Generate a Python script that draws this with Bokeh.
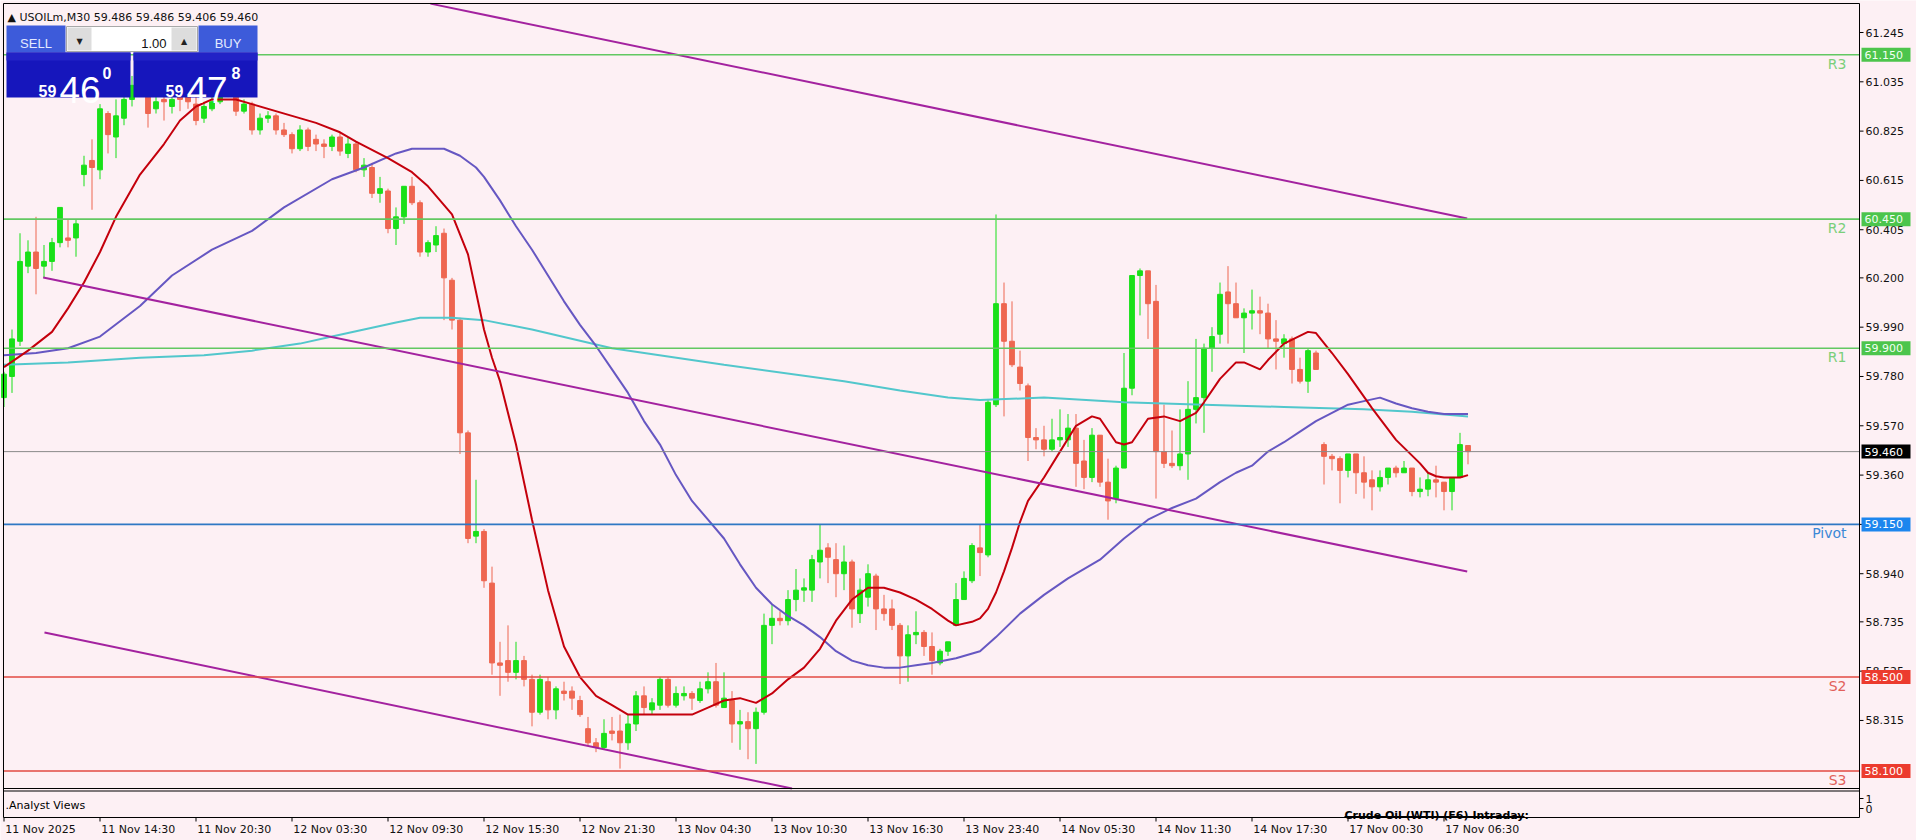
from bokeh.plotting import figure
from bokeh.models import Range1d, Label, BoxAnnotation
from bokeh.core.properties import value
from bokeh.embed import file_html
from bokeh.resources import INLINE

# ---------------- data ----------------
symbol_header = "\u25B2 USOILm,M30  59.486 59.486 59.406 59.460"

bar_open = [
    59.69, 59.78, 59.93, 60.25, 60.31, 60.25, 60.27, 60.35, 60.37, 60.37,
    60.64, 60.70, 60.66, 60.90, 60.80, 60.88, 60.96, 61.02, 61.04, 60.92,
    60.96, 60.93, 60.97, 60.99, 60.94, 60.88, 60.92, 60.95, 60.98, 61.00,
    60.91, 60.94, 60.83, 60.88, 60.89, 60.83, 60.81, 60.75, 60.83, 60.79,
    60.77, 60.76, 60.80, 60.73, 60.77, 60.66, 60.67, 60.56, 60.57, 60.41,
    60.46, 60.59, 60.52, 60.31, 60.34, 60.39, 60.19, 60.02, 59.54, 59.10,
    59.12, 58.90, 58.56, 58.57, 58.52, 58.57, 58.49, 58.35, 58.48, 58.36,
    58.44, 58.44, 58.40, 58.28, 58.22, 58.20, 58.27, 58.27, 58.22, 58.30,
    58.42, 58.36, 58.38, 58.49, 58.38, 58.42, 58.43, 58.40, 58.45, 58.48,
    58.37, 58.40, 58.30, 58.31, 58.28, 58.35, 58.72, 58.75, 58.74, 58.83,
    58.87, 58.87, 58.99, 59.05, 59.00, 58.94, 58.99, 58.77, 58.84, 58.93,
    58.79, 58.79, 58.72, 58.59, 58.68, 58.69, 58.63, 58.56, 58.61, 58.72,
    58.83, 58.91, 59.05, 59.02, 59.66, 60.09, 59.93, 59.82, 59.74, 59.52,
    59.51, 59.47, 59.51, 59.51, 59.56, 59.42, 59.35, 59.53, 59.33, 59.26,
    59.39, 59.73, 60.21, 60.23, 60.10, 59.46, 59.41, 59.40, 59.45, 59.64,
    59.69, 59.90, 59.96, 60.14, 60.09, 60.03, 60.05, 60.06, 60.05, 59.94,
    59.92, 59.94, 59.81, 59.76, 59.88, 59.49, 59.44, 59.43, 59.38, 59.45,
    59.37, 59.34, 59.31, 59.35, 59.39, 59.37, 59.39, 59.29, 59.30, 59.34,
    59.33, 59.29, 59.35, 59.486,
]
bar_high = [
    59.80, 59.98, 60.39, 60.36, 60.46, 60.34, 60.37, 60.50, 60.45, 60.45,
    60.72, 60.79, 60.94, 60.91, 60.96, 61.00, 61.06, 61.10, 61.07, 61.00,
    61.00, 61.01, 61.01, 61.02, 60.97, 60.95, 60.99, 61.03, 61.05, 61.03,
    60.96, 60.95, 60.90, 60.91, 60.90, 60.86, 60.82, 60.85, 60.84, 60.81,
    60.79, 60.81, 60.82, 60.80, 60.78, 60.71, 60.69, 60.63, 60.58, 60.50,
    60.59, 60.63, 60.53, 60.36, 60.42, 60.41, 60.20, 60.03, 59.55, 59.34,
    59.13, 58.97, 58.65, 58.72, 58.65, 58.59, 58.51, 58.51, 58.50, 58.46,
    58.48, 58.46, 58.42, 58.33, 58.24, 58.32, 58.33, 58.34, 58.34, 58.44,
    58.46, 58.41, 58.50, 58.50, 58.46, 58.46, 58.44, 58.48, 58.52, 58.56,
    58.52, 58.44, 58.36, 58.35, 58.37, 58.77, 58.81, 58.78, 58.87, 58.96,
    58.92, 59.02, 59.15, 59.07, 59.07, 59.06, 59.00, 58.92, 58.98, 58.94,
    58.85, 58.83, 58.73, 58.72, 58.78, 58.70, 58.69, 58.62, 58.65, 58.90,
    58.95, 59.07, 59.15, 59.68, 60.47, 60.18, 60.10, 59.89, 59.75, 59.56,
    59.57, 59.60, 59.64, 59.62, 59.62, 59.51, 59.56, 59.53, 59.43, 59.40,
    59.88, 60.21, 60.24, 60.23, 60.17, 59.66, 59.55, 59.64, 59.76, 59.94,
    59.92, 59.99, 60.18, 60.25, 60.18, 60.07, 60.15, 60.12, 60.09, 60.02,
    59.96, 59.95, 59.86, 59.90, 59.89, 59.50, 59.45, 59.44, 59.45, 59.45,
    59.44, 59.38, 59.38, 59.39, 59.40, 59.42, 59.39, 59.35, 59.37, 59.40,
    59.33, 59.35, 59.54, 59.486,
]
bar_low = [
    59.65, 59.71, 59.91, 60.22, 60.13, 60.20, 60.23, 60.33, 60.33, 60.29,
    60.59, 60.49, 60.62, 60.73, 60.71, 60.85, 60.93, 60.98, 60.84, 60.90,
    60.87, 60.90, 60.91, 60.92, 60.85, 60.86, 60.91, 60.94, 60.97, 60.89,
    60.90, 60.81, 60.81, 60.86, 60.81, 60.80, 60.73, 60.74, 60.74, 60.74,
    60.71, 60.74, 60.72, 60.71, 60.65, 60.63, 60.54, 60.52, 60.39, 60.34,
    60.43, 60.51, 60.29, 60.29, 60.31, 60.02, 59.98, 59.45, 59.07, 59.07,
    58.88, 58.51, 58.42, 58.48, 58.49, 58.46, 58.29, 58.34, 58.32, 58.32,
    58.40, 58.36, 58.33, 58.21, 58.18, 58.19, 58.23, 58.11, 58.19, 58.27,
    58.34, 58.34, 58.36, 58.37, 58.37, 58.40, 58.36, 58.39, 58.43, 58.37,
    58.37, 58.22, 58.19, 58.15, 58.13, 58.34, 58.64, 58.72, 58.72, 58.78,
    58.82, 58.82, 58.92, 58.90, 58.84, 58.87, 58.71, 58.73, 58.80, 58.70,
    58.74, 58.70, 58.47, 58.48, 58.64, 58.59, 58.51, 58.55, 58.59, 58.72,
    58.83, 58.90, 58.93, 59.01, 59.65, 59.61, 59.82, 59.72, 59.42, 59.47,
    59.44, 59.46, 59.48, 59.48, 59.31, 59.30, 59.33, 59.31, 59.17, 59.24,
    59.39, 59.70, 60.04, 59.94, 59.26, 59.39, 59.39, 59.38, 59.34, 59.58,
    59.54, 59.80, 59.92, 59.92, 60.03, 59.88, 59.98, 59.96, 59.90, 59.81,
    59.86, 59.75, 59.75, 59.71, 59.81, 59.32, 59.38, 59.24, 59.35, 59.28,
    59.26, 59.21, 59.29, 59.32, 59.35, 59.37, 59.27, 59.265, 59.27, 59.265,
    59.21, 59.21, 59.35, 59.406,
]
bar_close = [
    59.79, 59.94, 60.27, 60.31, 60.24, 60.27, 60.35, 60.50, 60.36, 60.43,
    60.68, 60.67, 60.92, 60.81, 60.89, 60.96, 61.02, 61.05, 60.90, 60.95,
    60.95, 60.96, 60.96, 60.95, 60.87, 60.93, 60.95, 60.98, 61.01, 60.91,
    60.94, 60.83, 60.88, 60.89, 60.83, 60.81, 60.75, 60.83, 60.76, 60.77,
    60.76, 60.80, 60.74, 60.77, 60.66, 60.68, 60.56, 60.58, 60.41, 60.46,
    60.59, 60.52, 60.31, 60.35, 60.38, 60.20, 60.02, 59.54, 59.09, 59.12,
    58.91, 58.56, 58.55, 58.52, 58.57, 58.49, 58.35, 58.49, 58.36, 58.45,
    58.43, 58.41, 58.34, 58.22, 58.20, 58.26, 58.26, 58.22, 58.30, 58.42,
    58.37, 58.39, 58.49, 58.38, 58.43, 58.43, 58.41, 58.45, 58.48, 58.38,
    58.41, 58.30, 58.31, 58.28, 58.35, 58.72, 58.75, 58.74, 58.83, 58.87,
    58.88, 59.00, 59.04, 59.01, 58.94, 58.99, 58.79, 58.87, 58.94, 58.79,
    58.77, 58.72, 58.59, 58.68, 58.69, 58.63, 58.57, 58.61, 58.65, 58.83,
    58.92, 59.06, 59.03, 59.67, 60.09, 59.93, 59.83, 59.75, 59.52, 59.51,
    59.47, 59.51, 59.52, 59.56, 59.41, 59.35, 59.53, 59.33, 59.25, 59.39,
    59.73, 60.21, 60.23, 60.09, 59.46, 59.41, 59.40, 59.45, 59.64, 59.69,
    59.90, 59.95, 60.13, 60.09, 60.03, 60.05, 60.06, 60.05, 59.94, 59.93,
    59.94, 59.81, 59.76, 59.89, 59.81, 59.44, 59.43, 59.38, 59.45, 59.37,
    59.33, 59.31, 59.35, 59.39, 59.37, 59.39, 59.29, 59.30, 59.34, 59.33,
    59.29, 59.35, 59.49, 59.460,
]

# moving averages (bar index, price)
ma_fast_bar = [0, 3, 6, 8, 10, 12, 14, 17, 20, 22, 24, 26, 29, 31, 36, 39, 42, 44, 48, 51,
               53, 56, 58, 60, 61, 62, 64, 66, 68, 70, 72, 74, 76, 78, 80, 83, 86, 88, 90, 92,
               94, 96, 98, 100, 102, 104, 106, 108, 110, 112, 114, 116, 118, 119, 121, 122, 123, 124, 125, 126,
               127, 128, 130, 132, 134, 136, 137, 139, 140, 141, 143, 145, 147, 149, 150, 152, 154, 155, 157, 158,
               160, 163, 164, 166, 168, 171, 174, 177, 178, 179, 180, 182, 183]
ma_fast_val = [59.82, 59.89, 59.97, 60.07, 60.18, 60.31, 60.46, 60.64, 60.77, 60.87, 60.93, 60.96, 60.96, 60.94, 60.89, 60.86, 60.82, 60.78, 60.71, 60.65,
               60.59, 60.47, 60.30, 59.98, 59.86, 59.76, 59.49, 59.17, 58.87, 58.63, 58.50, 58.42, 58.38, 58.34, 58.34, 58.34, 58.34, 58.37, 58.40, 58.41,
               58.39, 58.43, 58.49, 58.54, 58.62, 58.74, 58.83, 58.88, 58.88, 58.86, 58.83, 58.79, 58.74, 58.72, 58.735, 58.75, 58.79, 58.86, 58.95, 59.05,
               59.16, 59.25, 59.35, 59.46, 59.57, 59.61, 59.60, 59.50, 59.49, 59.50, 59.60, 59.61, 59.59, 59.625, 59.67, 59.77, 59.84, 59.84, 59.81, 59.85,
               59.92, 59.97, 59.965, 59.88, 59.79, 59.645, 59.51, 59.41, 59.37, 59.355, 59.35, 59.35, 59.36]

ma_mid_bar = [0, 4, 8, 12, 17, 21, 26, 31, 35, 41, 45, 49, 51, 55, 57, 59, 60, 62, 64, 66,
              68, 70, 72, 74, 76, 78, 80, 82, 84, 86, 88, 90, 92, 94, 96, 98, 100, 102, 104, 106,
              108, 110, 112, 114, 116, 119, 122, 124, 127, 130, 133, 137, 140, 143, 146, 149, 152, 154, 156, 158,
              160, 162, 164, 166, 168, 170, 172, 174, 176, 178, 180, 183]
ma_mid_val = [59.87, 59.88, 59.90, 59.95, 60.08, 60.21, 60.32, 60.40, 60.50, 60.62, 60.67, 60.73, 60.75, 60.75, 60.72, 60.67, 60.63, 60.53, 60.42, 60.32,
              60.21, 60.10, 60.00, 59.91, 59.81, 59.71, 59.59, 59.49, 59.36, 59.25, 59.17, 59.09, 58.98, 58.88, 58.81, 58.76, 58.72, 58.67, 58.61, 58.57,
              58.55, 58.54, 58.54, 58.55, 58.56, 58.58, 58.61, 58.67, 58.77, 58.85, 58.92, 59.00, 59.09, 59.17, 59.22, 59.26, 59.33, 59.37, 59.40, 59.46,
              59.50, 59.545, 59.59, 59.625, 59.66, 59.675, 59.69, 59.665, 59.645, 59.63, 59.62, 59.62]

ma_slow_bar = [0, 8, 17, 25, 31, 37, 41, 45, 49, 52, 56, 60, 66, 76, 90, 105, 112, 118, 122, 130,
               140, 150, 160, 170, 176, 183]
ma_slow_val = [59.83, 59.84, 59.86, 59.87, 59.89, 59.92, 59.95, 59.98, 60.01, 60.03, 60.03, 60.02, 59.98, 59.90, 59.83, 59.76, 59.72, 59.69, 59.68, 59.69,
               59.67, 59.66, 59.65, 59.64, 59.63, 59.61]

# channel lines (two anchor points each: bar index, price)
trend_upper_bar = [53.3, 182.9]
trend_upper_val = [61.368, 60.453]
trend_mid_bar = [4.9, 182.9]
trend_mid_val = [60.202, 58.949]
trend_low_bar = [5.06, 98.5]
trend_low_val = [58.690, 58.025]

# pivot levels
level_names = ["R3", "R2", "R1", "Pivot", "S2", "S3"]
level_values = [61.150, 60.450, 59.900, 59.150, 58.500, 58.100]
current_price = 59.460

# axes
price_ticks = [58.315, 58.525, 58.735, 58.940, 59.150, 59.360, 59.570, 59.780, 59.990,
               60.200, 60.405, 60.615, 60.825, 61.035, 61.245]
time_tick_bars = [0, 12, 24, 36, 48, 60, 72, 84, 96, 108, 120, 132, 144, 156, 168, 180]
time_tick_labels = ["11 Nov 2025", "11 Nov 14:30", "11 Nov 20:30", "12 Nov 03:30", "12 Nov 09:30",
                    "12 Nov 15:30", "12 Nov 21:30", "13 Nov 04:30", "13 Nov 10:30", "13 Nov 16:30",
                    "13 Nov 23:40", "14 Nov 05:30", "14 Nov 11:30", "14 Nov 17:30", "17 Nov 00:30",
                    "17 Nov 06:30"]
sub_ticks_text = ["1", "0"]

# one-click trading panel
sell_parts = ["59", "46", "0"]
buy_parts = ["59", "47", "8"]
lot_text = "1.00"
sub_title_left = ".Analyst Views"
sub_title_right = "Crude Oil (WTI) (F6) Intraday:"

# ---------------- styling / geometry ----------------
BG = "#FDF0F4"
BULL = "#19E019"
BEAR = "#EE6650"
FONT = "DejaVu Sans"
CANVAS_W, CANVAS_H = 1916, 840


def bx(px):
    """reference pixel x -> bar coordinate"""
    return (px - 3.5) / 8.0


def py(y):
    """reference pixel y -> price coordinate"""
    return 61.245 - (y - 32) / 234.8


def ph(npx):
    """pixel height -> price span"""
    return npx / 234.8


XL, XR = bx(3), bx(1859)          # chart window left / right border
YT, YM, YB = py(3), py(788), py(817)  # top, main-window bottom, sub-window bottom

p = figure(frame_width=CANVAS_W, frame_height=CANVAS_H,
           x_range=Range1d(bx(0), bx(CANVAS_W)), y_range=Range1d(py(CANVAS_H), py(0)),
           output_backend="svg", toolbar_location=None,
           x_axis_location=None, y_axis_location=None,
           min_border=0, min_border_left=0, min_border_top=0,
           min_border_right=0, min_border_bottom=0)
p.background_fill_color = BG
p.border_fill_color = BG
p.outline_line_color = None
p.xgrid.visible = False
p.ygrid.visible = False
for r in list(p.center):
    if r.__class__.__name__ == "Grid":
        r.visible = False

# ---------------- candles ----------------
n = len(bar_open)
xs = list(range(n))
colors = [BULL if bar_close[i] >= bar_open[i] else BEAR for i in range(n)]
tops = [max(bar_open[i], bar_close[i]) for i in range(n)]
bots = [min(bar_open[i], bar_close[i]) for i in range(n)]
p.segment(x0=xs, y0=bar_low, x1=xs, y1=bar_high, line_color=colors, line_width=1)
p.vbar(x=xs, width=0.6, top=tops, bottom=bots, fill_color=colors, line_color=colors, line_width=1)

# moving averages
p.line(ma_slow_bar, ma_slow_val, line_color="#52C7CC", line_width=2)
p.line(ma_mid_bar, ma_mid_val, line_color="#6657C2", line_width=2)
p.line(ma_fast_bar, ma_fast_val, line_color="#C4000C", line_width=2)

# channel lines
for tb, tv in [(trend_upper_bar, trend_upper_val), (trend_mid_bar, trend_mid_val), (trend_low_bar, trend_low_val)]:
    p.line(tb, tv, line_color="#A3229F", line_width=2)

# ---------------- horizontal levels ----------------
level_line_colors = ["#62C862", "#62C862", "#62C862", "#2F78C4", "#E24A42", "#E24A42"]
level_text_colors = ["#7ACF7A", "#7ACF7A", "#7ACF7A", "#3C88D6", "#E2605A", "#E2605A"]
level_box_colors = ["#4CC54C", "#4CC54C", "#4CC54C", "#1C86EE", "#EC3B2E", "#EC3B2E"]
p.segment(x0=[XL], x1=[XR], y0=[current_price], y1=[current_price], line_color="#8A8A8A", line_width=1)
p.segment(x0=[XL] * len(level_values), x1=[XR] * len(level_values), y0=level_values, y1=level_values,
          line_color=level_line_colors, line_width=1.6)
p.text(x=[bx(1846)] * len(level_names), y=[v - ph(1) for v in level_values], text=level_names,
       text_color=level_text_colors, text_align="right", text_baseline="top",
       text_font=value(FONT), text_font_size=value("14px"))

# ---------------- window borders ----------------
p.segment(x0=[XL, XL, XR, XL, XL, XL], x1=[XR, XL, XR, XR, XR, XR],
          y0=[YT, YT, YT, YM, py(790.5), YB], y1=[YT, YB, YB, YM, py(790.5), YB],
          line_color="black", line_width=1)

# ---------------- right price axis ----------------
sub_tick_vals = [py(798), py(808)]
all_ticks = price_ticks + sub_tick_vals
all_tick_text = [f"{v:.3f}" for v in price_ticks] + sub_ticks_text
p.segment(x0=[XR] * len(all_ticks), x1=[bx(1863)] * len(all_ticks), y0=all_ticks, y1=all_ticks,
          line_color="black", line_width=1)
p.text(x=[bx(1865)] * len(all_ticks), y=all_ticks, text=all_tick_text, text_color="#111111",
       text_align="left", text_baseline="middle", text_font=value(FONT), text_font_size=value("11px"))

# coloured price boxes on the axis
box_vals = level_values + [current_price]
box_cols = level_box_colors + ["#000000"]
p.quad(left=[bx(1861)] * len(box_vals), right=[bx(1910)] * len(box_vals),
       top=[v + ph(7) for v in box_vals], bottom=[v - ph(7) for v in box_vals],
       fill_color=box_cols, line_color=None)
p.text(x=[bx(1864)] * len(box_vals), y=box_vals, text=[f"{v:.3f}" for v in box_vals],
       text_color=["#F2FFF2"] * 3 + ["white"] * 4, text_align="left", text_baseline="middle",
       text_font=value(FONT), text_font_size=value("11px"))

# ---------------- time axis ----------------
p.segment(x0=time_tick_bars, x1=time_tick_bars, y0=[YB] * len(time_tick_bars), y1=[py(821)] * len(time_tick_bars),
          line_color="black", line_width=1)
p.text(x=[b + 0.15 for b in time_tick_bars], y=[py(822)] * len(time_tick_bars), text=time_tick_labels,
       text_color="#111111", text_align="left", text_baseline="top",
       text_font=value(FONT), text_font_size=value("11px"))

# ---------------- sub window texts ----------------
p.add_layout(Label(x=bx(5), y=py(805), text=sub_title_left, text_align="left", text_baseline="alphabetic",
                   text_font=FONT, text_font_size="11px", text_color="black"))
p.add_layout(Label(x=bx(1344), y=py(815), text=sub_title_right, text_align="left", text_baseline="alphabetic",
                   text_font=FONT, text_font_size="11px", text_font_style="bold", text_color="black"))
p.add_layout(BoxAnnotation(left=bx(1344), right=bx(1524), top=py(815.5), bottom=py(816.5),
                           fill_color="black", fill_alpha=1.0, line_color=None))


# ---------------- one-click trading panel ----------------
def box(x0, x1, y0, y1, color, line=None):
    p.add_layout(BoxAnnotation(left=bx(x0), right=bx(x1), top=py(y0), bottom=py(y1),
                               fill_color=color, fill_alpha=1.0,
                               line_color=line, line_alpha=1.0, line_width=1))


def txt(x, y, s, size, color, align="left", baseline="alphabetic", font=FONT, style="normal"):
    p.add_layout(Label(x=bx(x), y=py(y), text=s, text_align=align, text_baseline=baseline,
                       text_font=font, text_font_size=f"{size}px", text_color=color, text_font_style=style))


box(6, 65, 25, 52, "#3D5BDA")
box(198, 257, 25, 52, "#3D5BDA")
box(66, 197, 26, 51, "#FFFFFF", "#A8A8A8")
box(67, 91, 27, 50, "#DDDDDD")
box(171, 196, 27, 50, "#DDDDDD")
box(6, 130, 52, 97, "#1616BC")
box(133, 257, 52, 97, "#1616BC")
box(6, 130, 52, 60, "#2222C6")
box(133, 257, 52, 60, "#2222C6")

txt(35.5, 43, "SELL", 13, "#E4EAFF", align="center", font="Liberation Sans")
txt(227.5, 43, "BUY", 13, "#E4EAFF", align="center", font="Liberation Sans")
txt(79, 41, "\u25BC", 8, "#222222", align="center")
txt(183.5, 41, "\u25B2", 8, "#222222", align="center")
txt(166, 43, lot_text, 13, "#111111", align="right", font="Liberation Sans")

txt(38, 90, sell_parts[0], 16, "white", font="Liberation Sans", style="bold")
txt(59, 89, sell_parts[1], 37, "white", font="Liberation Sans")
txt(102, 72, sell_parts[2], 16, "white", font="Liberation Sans", style="bold")
txt(165, 90, buy_parts[0], 16, "white", font="Liberation Sans", style="bold")
txt(186, 89, buy_parts[1], 37, "white", font="Liberation Sans")
txt(231, 72, buy_parts[2], 16, "white", font="Liberation Sans", style="bold")

txt(7, 17, symbol_header, 11, "#111111")

open("out.html", "w").write(file_html(p, INLINE))
